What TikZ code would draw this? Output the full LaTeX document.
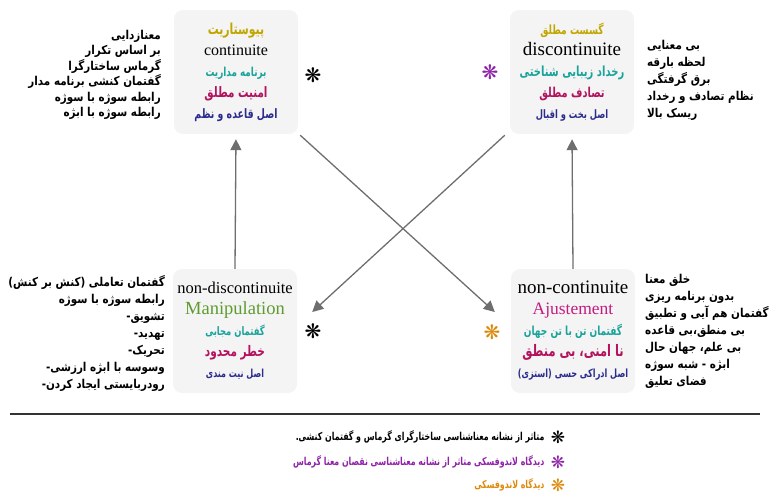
\documentclass[tikz,border=0pt]{standalone}
\usepackage{fontspec}
\setmainfont{Liberation Serif}
\newfontfamily\farsi[Script=Arabic,FakeStretch=0.85]{DejaVu Sans}
\newfontfamily\farsib[Script=Arabic,FakeStretch=0.72]{DejaVu Sans}
\newfontfamily\djv{DejaVu Sans}
\TeXXeTstate=1
\usepackage{tikz}
\usetikzlibrary{arrows.meta,calc,positioning}
\definecolor{gold}{HTML}{C2A600}
\definecolor{tealx}{HTML}{1AA39B}
\definecolor{crim}{HTML}{B3125E}
\definecolor{navyx}{HTML}{2C2C8E}
\definecolor{leaf}{HTML}{5E9B30}
\definecolor{rose}{HTML}{C41C80}
\definecolor{violetx}{HTML}{8E22A8}
\definecolor{amber}{HTML}{DC8A0C}
\definecolor{boxgray}{HTML}{F4F4F4}
\definecolor{arrowgray}{HTML}{6E6E6E}
\newcommand\rl[1]{\beginR #1\endR}
\newcommand\fa[3]{{\color{#1}\fontsize{#2}{21}\selectfont\farsib\bfseries #3}}
\newcommand\la[3]{{\color{#1}\fontsize{#2}{21}\selectfont #3}}
\newcommand\dl[1]{\hbox{-}\hbox{\rl{#1}}}
\tikzset{
  box/.style={rounded corners=9pt,fill=boxgray,minimum width=124pt,minimum height=124pt,
    align=center,inner sep=2pt,font=\fontsize{10}{21}\selectfont},
  note/.style={inner sep=0pt,font=\farsi\bfseries\fontsize{12.2}{17}\selectfont},
  arr/.style={arrowgray,line width=1.3pt,-{Triangle[length=11pt,width=11pt]}},
  asterisk/.style={inner sep=0pt,font=\djv\bfseries\fontsize{20}{20}\selectfont},
  legend/.style={inner sep=0pt,font=\farsib\bfseries\fontsize{10.9}{12}\selectfont}
}
\begin{document}
\begin{tikzpicture}[x=1pt,y=-1pt]
\useasboundingbox (0,0) rectangle (770,496);

\node[box] (tl) at (236,72) {\fa{gold}{15.1}{\rl{پیوستاریت}}\\ \la{black}{16}{continuite}\\
  \fa{tealx}{12.3}{\rl{برنامه مداریت}}\\ \fa{crim}{14.4}{\rl{امنیت مطلق}}\\ \fa{navyx}{13}{\rl{اصل قاعده و نظم}}};
\node[box] (tr) at (572,72) {\fa{gold}{12.7}{\rl{گسست مطلق}}\\ \la{black}{19}{discontinuite}\\
  \fa{tealx}{13.9}{\rl{رخداد زیبایی شناختی}}\\ \fa{crim}{13.6}{\rl{تصادف مطلق}}\\ \fa{navyx}{11.6}{\rl{اصل بخت و اقبال}}};
\node[box] (bl) at (235,331) {\la{black}{16.5}{non-discontinuite}\\ \la{leaf}{18.5}{Manipulation}\\
  \fa{tealx}{11.7}{\rl{گفتمان مجابی}}\\ \fa{crim}{14.6}{\rl{خطر محدود}}\\ \fa{navyx}{11.1}{\rl{اصل نیت مندی}}};
\node[box] (br) at (573,331) {\la{black}{19}{non-continuite}\\ \la{rose}{17.5}{Ajustement}\\
  \fa{tealx}{12.5}{\rl{گفتمان تن با تن جهان}}\\ \fa{crim}{15.9}{\rl{نا امنی، بی منطق}}\\ \fa{navyx}{11.3}{\rl{اصل ادراکی حسی (استزی)}}};

\node[asterisk] (atl) at (313,75) {❋};
\node[asterisk,violetx] (atr) at (490,72) {❋};
\node[asterisk] (abl) at (313,331) {❋};
\node[asterisk,amber] (abr) at (492,332) {❋};

\node[note,align=right,anchor=east,font=\farsi\bfseries\fontsize{12.2}{15.5}\selectfont] (tlnote) at (161,75)
  {\rl{معنازدایی}\\ \rl{بر اساس تکرار}\\ \rl{گرماس ساختارگرا}\\
   \rl{گفتمان کنشی برنامه مدار}\\ \rl{رابطه سوژه با سوژه}\\ \rl{رابطه سوژه با ابژه}};
\node[note,align=left,anchor=west] (trnote) at (647,80)
  {\rl{بی معنایی}\\ \rl{لحظه بارقه}\\ \rl{برق گرفتگی}\\ \rl{نظام تصادف و رخداد}\\ \rl{ریسک بالا}};
\node[note,align=right,anchor=east] (blnote) at (165,333)
  {\rl{گفتمان تعاملی (کنش بر کنش)}\\ \rl{رابطه سوژه با سوژه}\\ \dl{تشویق}\\ \dl{تهدید}\\
   \dl{تحریک}\\ \dl{وسوسه با ابژه ارزشی}\\ \dl{رودربایستی ایجاد کردن}};
\node[note,align=left,anchor=west] (brnote) at (645,331)
  {\rl{خلق معنا}\\ \rl{بدون برنامه ریزی}\\ \rl{گفتمان هم آیی و تطبیق}\\ \rl{بی منطق،بی قاعده}\\
   \rl{بی علم، جهان حال}\\ \rl{ابژه - شبه سوژه}\\ \rl{فضای تعلیق}};

\draw[arr,shorten >=5pt] (bl.north) -- (tl.south);
\draw[arr,shorten >=5pt] (br.north) -- (tr.south);
\draw[arr] ($(tl.south east)+(2,1)$) -- ($(br.west)+(-16,-19)$);
\draw[arr] ($(tr.south west)+(-5,1)$) -- ($(bl.east)+(15,-19)$);

\draw[line width=1.2pt,black!80] (10,414) -- (760,414);

\node[asterisk,font=\djv\bfseries\fontsize{17}{17}\selectfont] (k1) at (558,437) {❋};
\node[asterisk,violetx,font=\djv\bfseries\fontsize{17}{17}\selectfont] (k2) at (558,462) {❋};
\node[asterisk,amber,font=\djv\bfseries\fontsize{17}{17}\selectfont] (k3) at (558,485) {❋};
\node[legend,left=6pt of k1] (t1) {\rl{متاثر از نشانه معناشناسی ساختارگرای گرماس و گفتمان کنشی.}};
\node[legend,violetx,left=6pt of k2] (t2) {\rl{دیدگاه لاندوفسکی متاثر از نشانه معناشناسی نقصان معنا گرماس}};
\node[legend,amber,left=6pt of k3] (t3) {\rl{دیدگاه لاندوفسکی}};
\end{tikzpicture}
\end{document}
